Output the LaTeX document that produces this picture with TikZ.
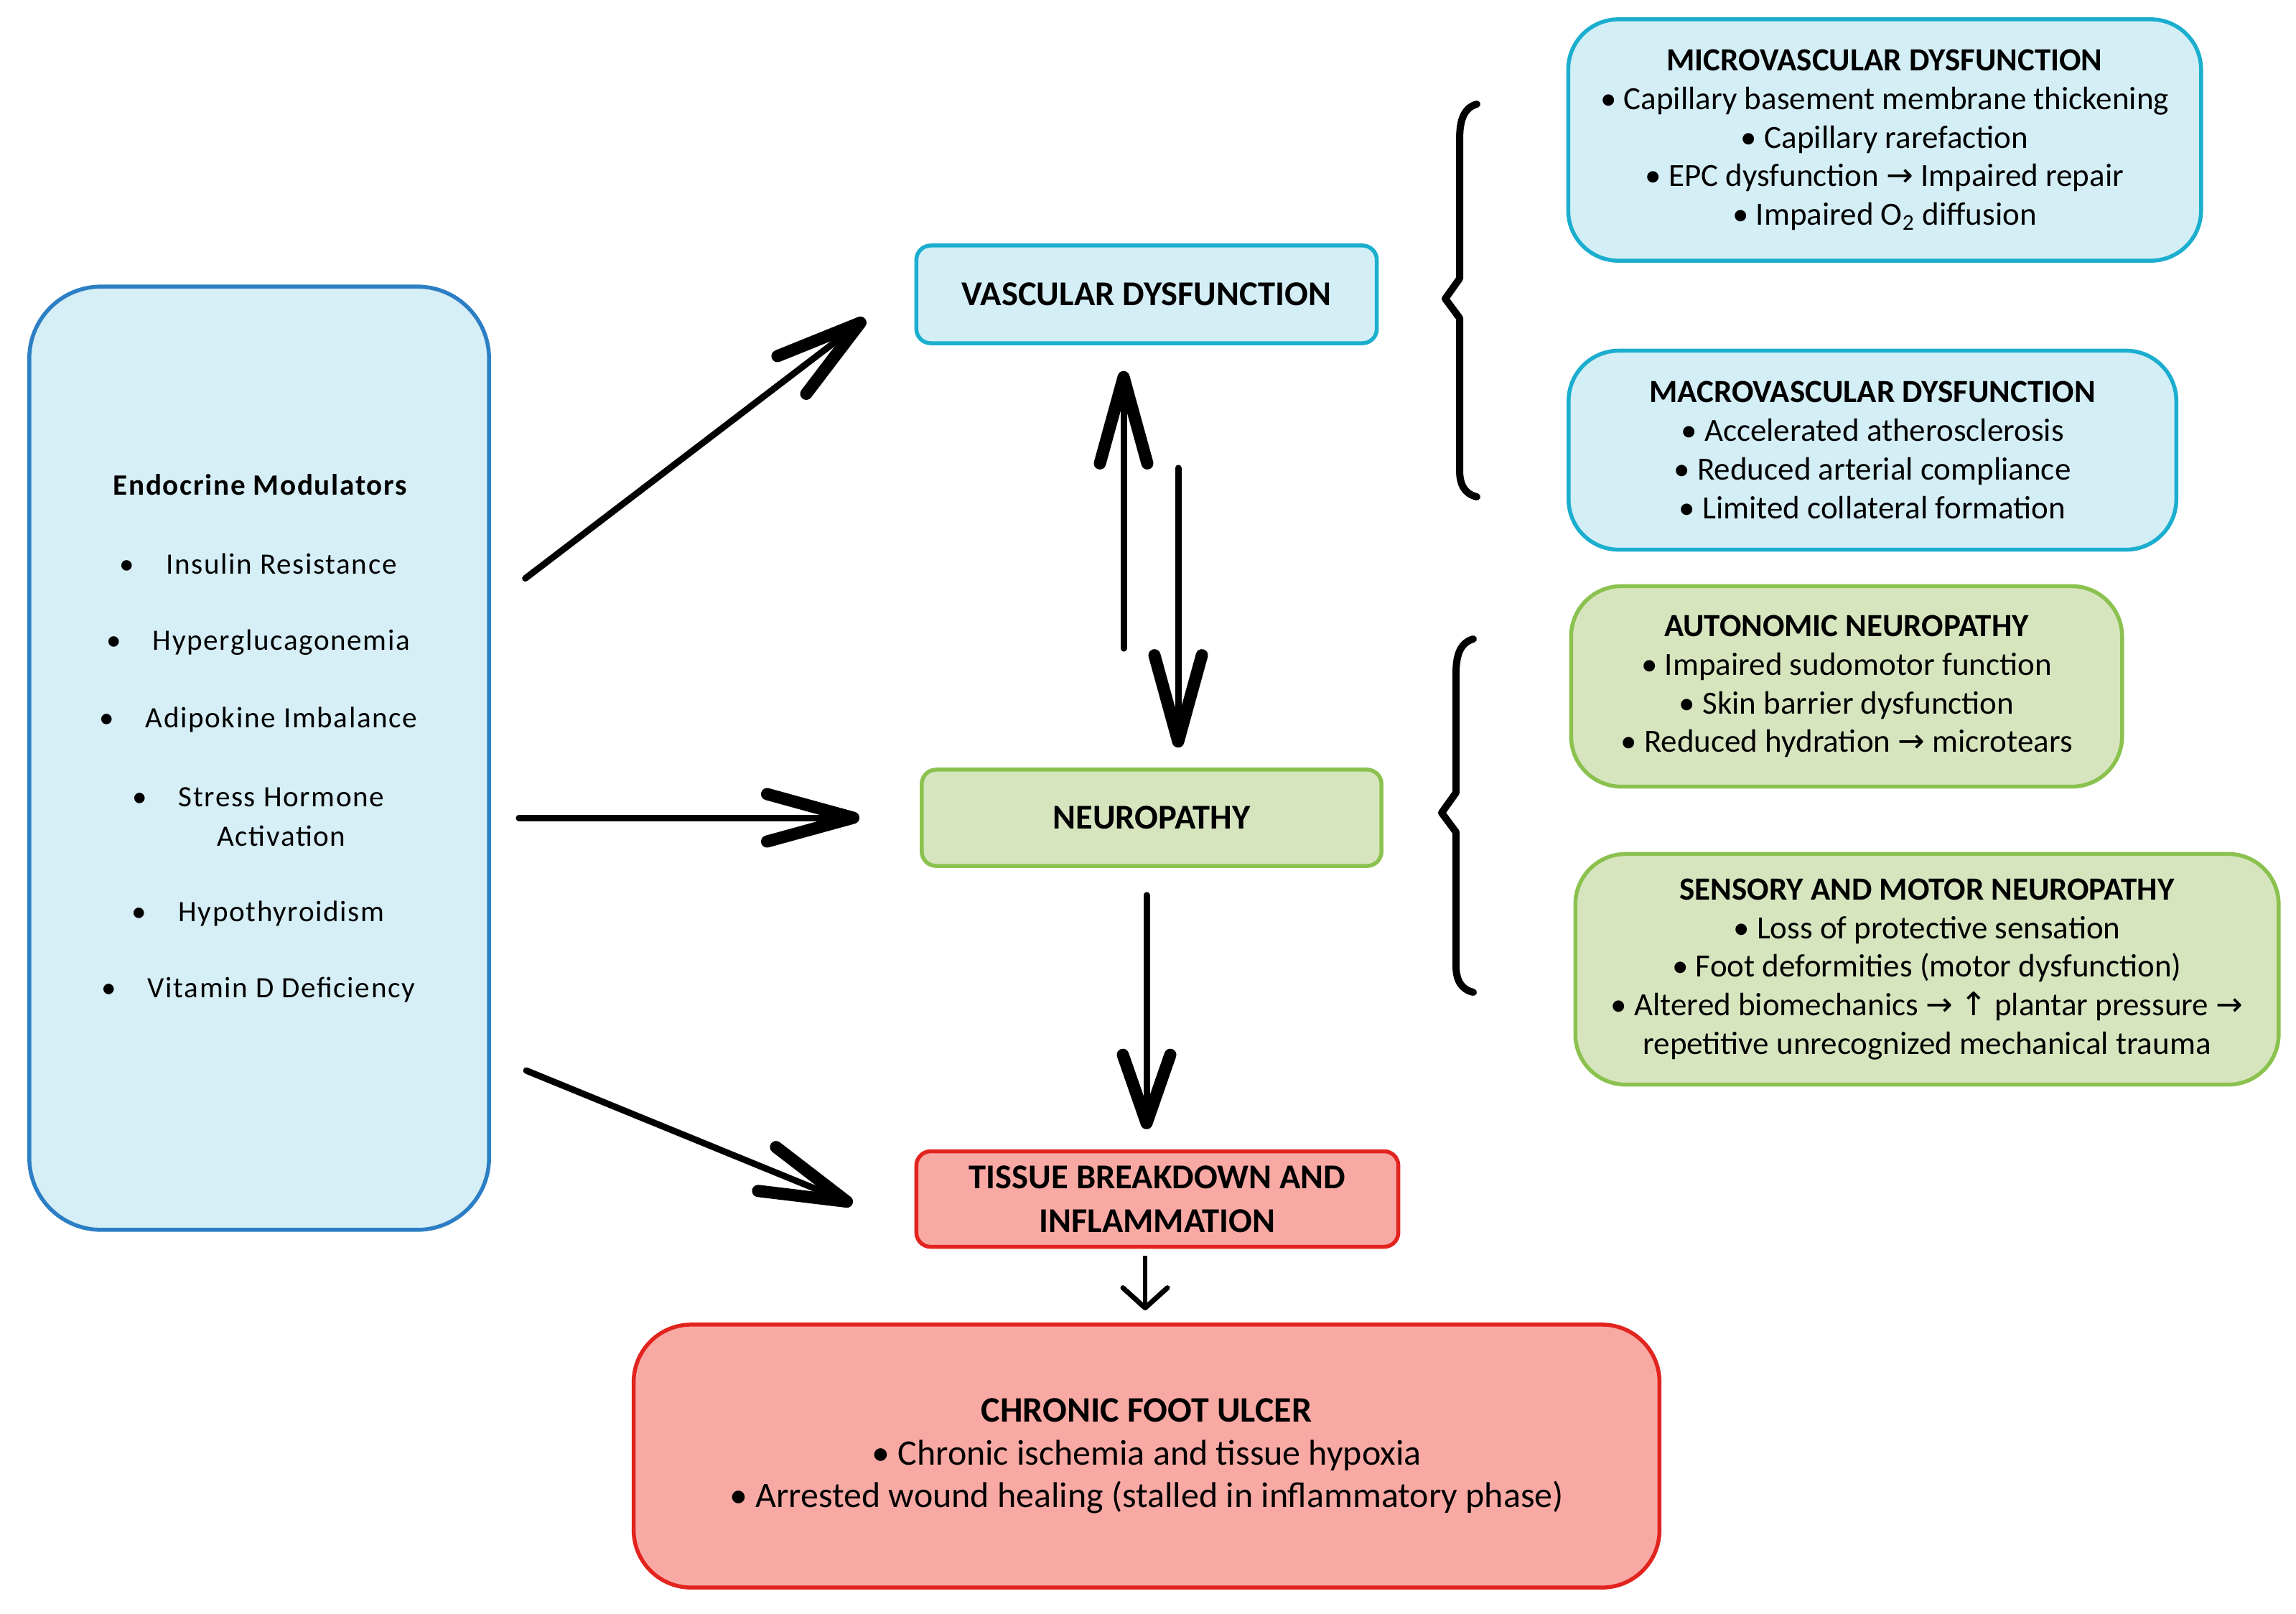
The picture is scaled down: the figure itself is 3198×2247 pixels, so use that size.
\documentclass[tikz,border=0pt]{standalone}
\usepackage{fontspec}
\setmainfont{Carlito}
\newfontfamily\lfont[LetterSpace=4]{Carlito}
\newfontfamily\arrfont{DejaVu Sans}
\usetikzlibrary{arrows.meta}
\definecolor{lbF}{HTML}{D6EEF6}
\definecolor{lbD}{HTML}{2C7FC4}
\definecolor{cF}{HTML}{D4EEF6}
\definecolor{cD}{HTML}{1BAECF}
\definecolor{gF}{HTML}{D7E5BF}
\definecolor{gD}{HTML}{8BC24F}
\definecolor{rF}{HTML}{F9A9A4}
\definecolor{rD}{HTML}{E2241F}
\newcommand{\myra}{{\arrfont\char"2192}}
\newcommand{\myup}{{\arrfont\char"2191}}
\begin{document}
\begin{tikzpicture}[x=0.01cm, y=-0.01cm,
  box/.style={draw, line width=0.055cm, inner sep=0pt, align=center},
  bluebox/.style={box, draw=cD, fill=cF},
  greenbox/.style={box, draw=gD, fill=gF},
  redbox/.style={box, draw=rD, fill=rF},
  sidetxt/.style={font=\fontsize{12.8pt}{15.3pt}\selectfont},
  maintxt/.style={font=\bfseries\fontsize{13.8pt}{17.4pt}\selectfont},
  lefttxt/.style={font=\lfont\fontsize{11.7pt}{15.6pt}\selectfont, inner sep=0pt, align=center, text height=1.5ex, text depth=0.25ex},
  bigarrow/.style={line width=0.09cm, line cap=round, -{Straight Barb[length=1.2cm, width=0.66cm, line width=0.17cm, round]}},
  midarrow/.style={line width=0.09cm, line cap=round, -{Straight Barb[length=0.95cm, width=0.66cm, line width=0.17cm, round]}},
  smallarrow/.style={line width=0.06cm, -{Straight Barb[length=0.28cm, width=0.62cm, line width=0.07cm, round]}},
  bracestyle/.style={line width=0.1cm, line cap=round, line join=round}
]
\useasboundingbox (0,0) rectangle (3198,2247);

% left box
\node[box, draw=lbD, fill=lbF, rounded corners=1cm, minimum width=6.4cm, minimum height=13.13cm] (endo) at (361,1056) {};
\node[lefttxt, font=\lfont\bfseries\fontsize{11.7pt}{14pt}\selectfont] (endotitle) at (362,679) {Endocrine Modulators};
\node[lefttxt] (i1) at (392,789) {\llap{\textbullet\hspace{0.44cm}}Insulin Resistance};
\node[lefttxt] (i2) at (392,895) {\llap{\textbullet\hspace{0.44cm}}Hyperglucagonemia};
\node[lefttxt] (i3) at (392,1003) {\llap{\textbullet\hspace{0.44cm}}Adipokine Imbalance};
\node[lefttxt, text height=, text depth=] (i4) at (392,1138) {\llap{\textbullet\hspace{0.44cm}}Stress Hormone\\Activation};
\node[lefttxt] (i5) at (392,1273) {\llap{\textbullet\hspace{0.44cm}}Hypothyroidism};
\node[lefttxt] (i6) at (392,1379) {\llap{\textbullet\hspace{0.44cm}}Vitamin D Deficiency};

% central boxes
\node[bluebox, maintxt, rounded corners=0.2cm, minimum width=6.41cm, minimum height=1.36cm] (vasc) at (1597,410) {VASCULAR DYSFUNCTION};
\node[greenbox, maintxt, rounded corners=0.2cm, minimum width=6.4cm, minimum height=1.34cm] (neuro) at (1604,1139) {NEUROPATHY};
\node[redbox, maintxt, rounded corners=0.2cm, minimum width=6.71cm, minimum height=1.33cm] (tissue) at (1612,1670) {TISSUE BREAKDOWN AND\\INFLAMMATION};
\node[redbox, rounded corners=0.8cm, minimum width=14.28cm, minimum height=3.66cm, font=\fontsize{14.2pt}{17pt}\selectfont] (ulcer) at (1597,2028)
  {{\bfseries CHRONIC FOOT ULCER}\\
   \textbullet{} Chronic ischemia and tissue hypoxia\\
   \textbullet{} Arrested wound healing (stalled in inflammatory phase)};

% right boxes
\node[bluebox, sidetxt, rounded corners=0.7cm, minimum width=8.81cm, minimum height=3.36cm] (micro) at (2625,195)
  {{\bfseries MICROVASCULAR DYSFUNCTION}\\
   \textbullet{} Capillary basement membrane thickening\\
   \textbullet{} Capillary rarefaction\\
   \textbullet{} EPC dysfunction \myra{} Impaired repair\\
   \textbullet{} Impaired O\textsubscript{2} diffusion};
\node[bluebox, sidetxt, rounded corners=0.7cm, minimum width=8.46cm, minimum height=2.77cm] (macro) at (2608,627)
  {{\bfseries MACROVASCULAR DYSFUNCTION}\\
   \textbullet{} Accelerated atherosclerosis\\
   \textbullet{} Reduced arterial compliance\\
   \textbullet{} Limited collateral formation};
\node[greenbox, sidetxt, rounded corners=0.7cm, minimum width=7.67cm, minimum height=2.79cm] (auto) at (2572,956)
  {{\bfseries AUTONOMIC NEUROPATHY}\\
   \textbullet{} Impaired sudomotor function\\
   \textbullet{} Skin barrier dysfunction\\
   \textbullet{} Reduced hydration \myra{} microtears};
\node[greenbox, sidetxt, rounded corners=0.7cm, minimum width=9.79cm, minimum height=3.21cm] (sens) at (2684,1350)
  {{\bfseries SENSORY AND MOTOR NEUROPATHY}\\
   \textbullet{} Loss of protective sensation\\
   \textbullet{} Foot deformities (motor dysfunction)\\
   \textbullet{} Altered biomechanics \myra{} \myup{} plantar pressure \myra\\
   repetitive unrecognized mechanical trauma};

% braces
\draw[bracestyle] (2057,145) .. controls (2040,150) and (2033,165) .. (2033,194)
  -- (2033,388) -- (2013,416) -- (2033,443) -- (2033,655)
  .. controls (2033,675) and (2040,688) .. (2057,692);
\draw[bracestyle] (2052,890) .. controls (2035,895) and (2028,910) .. (2028,938)
  -- (2028,1104) -- (2008,1132) -- (2028,1159) -- (2028,1345)
  .. controls (2028,1365) and (2035,1378) .. (2052,1382);

% arrows
\draw[bigarrow, shorten <=0.6cm, shorten >=0.86cm] (endo.east |- 0,842) -- (vasc.west |- 0,392);
\draw[bigarrow, shorten <=0.39cm, shorten >=0.84cm] (endo.east |- neuro.west) -- (neuro.west);
\draw[bigarrow, shorten <=0.53cm, shorten >=0.93cm] (endo.east |- 0,1471) -- (tissue.west |- 0,1712);
\draw[bigarrow, shorten <=1.66cm, shorten >=0.36cm] (neuro.north -| 1565,0) -- (vasc.south -| 1565,0);
\draw[bigarrow, shorten <=1.71cm, shorten >=0.28cm] (vasc.south -| 1641,0) -- (neuro.north -| 1641,0);
\draw[midarrow, shorten <=0.38cm, shorten >=0.28cm] (neuro.south -| 1597,0) -- (tissue.north -| 1597,0);
\draw[smallarrow, shorten <=0.1cm, shorten >=0.17cm] (tissue.south -| 1595,0) -- (ulcer.north -| 1595,0);
\end{tikzpicture}
\end{document}
